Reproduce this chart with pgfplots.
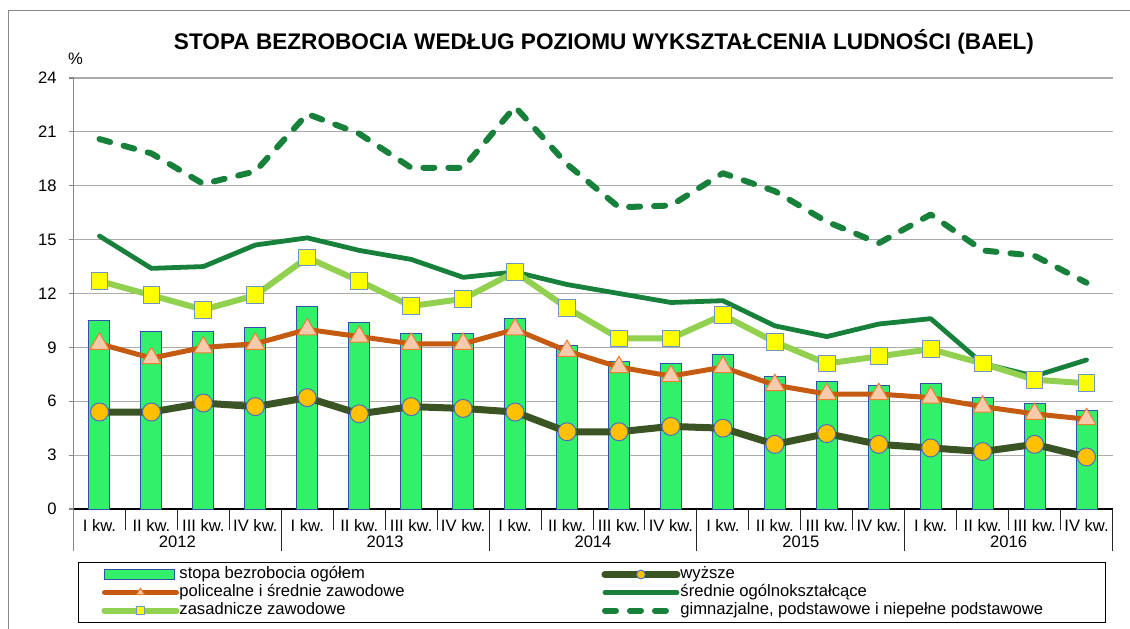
\documentclass[border=0pt]{standalone}
\usepackage{fontspec}
\setmainfont{Liberation Sans}
\usepackage{pgfplots}
\usepackage{pgfplotstable}
\pgfplotsset{compat=1.18}

\definecolor{barGreen}{HTML}{33F06A}
\definecolor{barEdge}{HTML}{3350A8}
\definecolor{wyzLine}{HTML}{3A5423}
\definecolor{wyzDot}{HTML}{FFC000}
\definecolor{dotEdge}{HTML}{4A6FC0}
\definecolor{polLine}{HTML}{C55A11}
\definecolor{polFill}{HTML}{F8CBAD}
\definecolor{polEdge}{HTML}{ED7D31}
\definecolor{zasLine}{HTML}{92D050}
\definecolor{zasFill}{HTML}{FFFF00}
\definecolor{sqEdge}{HTML}{7094C4}
\definecolor{srGreen}{HTML}{17803A}
\definecolor{gridGray}{HTML}{ABABAB}
\definecolor{axisGray}{HTML}{868686}

\pgfplotsset{
  barleg/.style={legend image code/.code={\draw[##1] (0pt,-2.5pt) rectangle (35pt,2.5pt); \path (36pt,0pt);}},
  lineleg/.style={legend image code/.code={\draw[##1, mark size=2.2pt, mark repeat=2, mark phase=2] plot coordinates {(0pt,0pt) (18pt,0pt) (36pt,0pt)};}},
}

% stopa bezrobocia wg wyksztalcenia, kwartaly 2012-2016
\pgfplotstableread{
x ogolem wyzsze polic sredn zasad gimn
0  10.5 5.4 9.2  15.2 12.7 20.6
1  9.9  5.4 8.4  13.4 11.9 19.8
2  9.9  5.9 9.0  13.5 11.1 18.1
3  10.1 5.7 9.2  14.7 11.9 18.8
4  11.3 6.2 10.0 15.1 14.0 22.0
5  10.4 5.3 9.6  14.4 12.7 20.9
6  9.8  5.7 9.2  13.9 11.3 19.0
7  9.8  5.6 9.2  12.9 11.7 19.0
8  10.6 5.4 10.0 13.2 13.2 22.4
9  9.1  4.3 8.8  12.5 11.2 19.2
10 8.2  4.3 7.9  12.0 9.5  16.8
11 8.1  4.6 7.4  11.5 9.5  16.9
12 8.6  4.5 7.9  11.6 10.8 18.7
13 7.4  3.6 6.9  10.2 9.3  17.7
14 7.1  4.2 6.4  9.6  8.1  16.0
15 6.9  3.6 6.4  10.3 8.5  14.8
16 7.0  3.4 6.2  10.6 8.9  16.4
17 6.2  3.2 5.7  8.1  8.1  14.4
18 5.9  3.6 5.3  7.4  7.2  14.1
19 5.5  2.9 5.0  8.3  7.0  12.6
}\dane

\newcommand{\lfont}{\fontsize{8.3}{9}\selectfont}

\begin{document}
\begin{tikzpicture}[x=1pt,y=1pt]
\useasboundingbox (0,0) rectangle (565,314);
\draw[axisGray, line width=0.5pt] (4,-5) -- (4,308.5) -- (570,308.5);
\node[font=\bfseries\fontsize{11.3}{13}\selectfont] at (302,293)
  {STOPA BEZROBOCIA WEDŁUG POZIOMU WYKSZTAŁCENIA LUDNOŚCI (BAEL)};
\begin{axis}[
  at={(36.75pt,59.5pt)}, anchor=south west,
  width=519.5pt, height=215.5pt, scale only axis,
  xmin=-0.5, xmax=19.5, ymin=0, ymax=24,
  ytick={0,3,...,24},
  xtick={0,...,19},
  xticklabels={I kw.,II kw.,III kw.,IV kw.,I kw.,II kw.,III kw.,IV kw.,I kw.,II kw.,III kw.,IV kw.,I kw.,II kw.,III kw.,IV kw.,I kw.,II kw.,III kw.,IV kw.},
  axis x line*=bottom, axis y line*=left,
  x axis line style={black, line width=0.6pt},
  y axis line style={axisGray, line width=0.6pt},
  xtick style={draw=none},
  ytick style={axisGray, line width=0.6pt},
  tick align=outside, major tick length=2.5pt,
  ymajorgrids, grid style={gridGray, line width=0.6pt},
  ticklabel style={font=\lfont},
  /pgf/number format/assume math mode=true,
  xticklabel style={anchor=base, yshift=-8.8pt},
  yticklabel style={anchor=east, inner sep=0pt, xshift=-5.75pt},
  ylabel={\%},
  every axis y label/.style={at={(rel axis cs:0,1)}, anchor=center, xshift=1pt, yshift=9.5pt, font=\lfont},
  clip=false,
  legend columns=2,
  legend cell align=left,
  legend style={at={(0.0043,-0.123)}, anchor=north west, draw=black, line width=0.5pt,
    inner xsep=11.5pt, inner ysep=1.5pt, font=\lfont,
    nodes={inner sep=0pt, text height=6.5pt, text depth=2.5pt},
    column sep=0pt, row sep=0pt},
]
\addplot[ybar, bar width=10.5pt, fill=barGreen, draw=barEdge, line width=0.5pt, barleg]
  table[x=x, y=ogolem] {\dane};
\addlegendentry{\makebox[211pt][l]{stopa bezrobocia ogółem}}

\addplot[wyzLine, line width=3.5pt, line cap=round, line join=round, mark=*, mark size=4.5pt,
  mark options={solid, fill=wyzDot, draw=dotEdge, line width=0.5pt}, lineleg]
  table[x=x, y=wyzsze] {\dane};
\addlegendentry{\makebox[201pt][l]{wyższe}}

\addplot[polLine, line width=2.5pt, line cap=round, line join=round, mark=triangle*, mark size=5.5pt,
  mark options={solid, fill=polFill, draw=polEdge, line width=0.5pt}, lineleg]
  table[x=x, y=polic] {\dane};
\addlegendentry{\makebox[211pt][l]{policealne i średnie zawodowe}}

\addplot[srGreen, line width=2.4pt, line cap=round, line join=round, no marks, lineleg]
  table[x=x, y=sredn] {\dane};
\addlegendentry{\makebox[201pt][l]{średnie ogólnokształcące}}

\addplot[zasLine, line width=3pt, line cap=round, line join=round, mark=square*, mark size=4.2pt,
  mark options={solid, fill=zasFill, draw=sqEdge, line width=0.5pt}, lineleg]
  table[x=x, y=zasad] {\dane};
\addlegendentry{\makebox[211pt][l]{zasadnicze zawodowe}}

\addplot[srGreen, line width=3pt, line cap=round, line join=round, no marks,
  dash pattern=on 5.5pt off 7pt, lineleg]
  table[x=x, y=gimn] {\dane};
\addlegendentry{\makebox[201pt][l]{gimnazjalne, podstawowe i niepełne podstawowe}}

\pgfplotsinvokeforeach{0.5,1.5,2.5,4.5,5.5,6.5,8.5,9.5,10.5,12.5,13.5,14.5,16.5,17.5,18.5}{
  \draw[black!85, line width=0.5pt] (axis cs:#1,0) -- ++(0pt,-10.5pt);}
\pgfplotsinvokeforeach{3.5,7.5,11.5,15.5,19.5}{
  \draw[black!85, line width=0.5pt] (axis cs:#1,0) -- ++(0pt,-21pt);}
\draw[axisGray, line width=0.6pt] (axis cs:-0.5,0) -- ++(0pt,-21pt);

\node[anchor=base, font=\lfont, yshift=-19.3pt] at (axis cs:1.5,0) {2012};
\node[anchor=base, font=\lfont, yshift=-19.3pt] at (axis cs:5.5,0) {2013};
\node[anchor=base, font=\lfont, yshift=-19.3pt] at (axis cs:9.5,0) {2014};
\node[anchor=base, font=\lfont, yshift=-19.3pt] at (axis cs:13.5,0) {2015};
\node[anchor=base, font=\lfont, yshift=-19.3pt] at (axis cs:17.5,0) {2016};
\end{axis}
\end{tikzpicture}
\end{document}
